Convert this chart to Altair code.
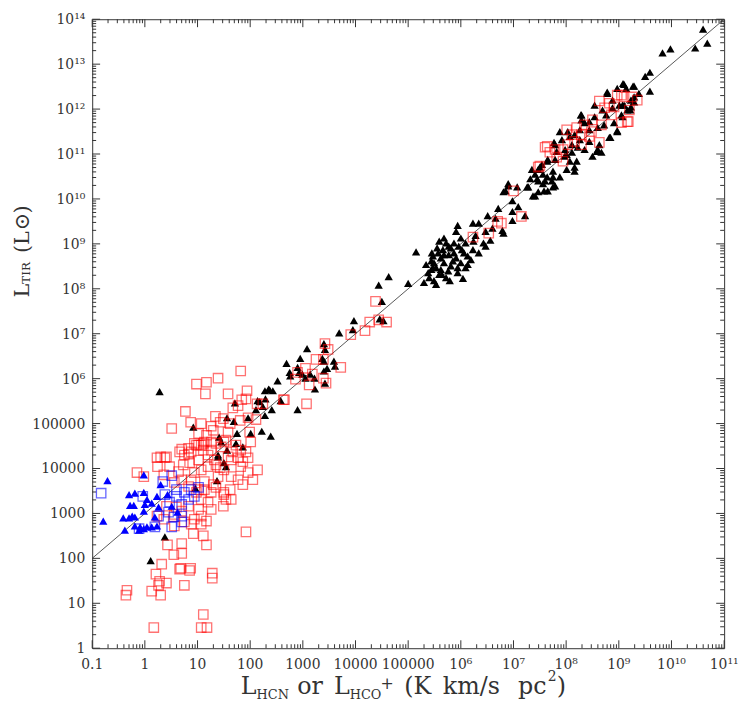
import math
import altair as alt
import pandas as pd

# ---------------- data (log10 values) ----------------
black_tri_x = [10.60, 10.68, 10.45, 9.98, 9.83,
    9.59, 9.50, 9.59, 9.29, 9.08, 8.97, 8.78, 9.14, 9.23, 9.29, 9.01, 9.05, 8.91, 8.82, 8.97, 8.54, 8.29, 8.60, 8.58, 8.44,
    8.16, 8.03, 7.88, 7.92, 7.79, 8.11, 8.22, 8.01, 8.20, 8.07, 8.16, 7.64, 7.50, 7.75, 7.73, 7.60, 7.88,
    8.54, 8.69, 8.35, 8.72, 8.44, 8.26, 7.98, 8.35, 8.63, 8.76, 9.10, 8.88, 9.38, 9.22, 8.50, 7.79, 7.56, 8.26, 8.07,
    8.78, 9.10, 9.27, 8.28, 8.29, 8.44, 7.77, 7.82, 7.65, 7.54, 7.35, 7.41, 7.47, 7.64, 7.75, 7.79, 7.58, 7.47, 7.37,
    6.90, 6.81, 7.26, 8.16, 7.97, 8.11, 8.60, 8.67, 8.84, 8.97, 9.07, 9.16, 9.23, 9.29, 9.07, 8.88,
    8.01, 7.75, 7.65, 7.56, 7.45, 7.47, 7.32, 7.41, 7.28, 7.09, 7.22, 6.98, 6.90, 6.85, 7.07, 6.98, 6.98, 6.71, 6.51, 6.66,
    6.79, 6.81, 6.60, 6.47, 6.34, 6.23, 6.28, 5.94, 5.91, 6.56, 6.43, 6.34, 6.23, 6.09, 6.00, 5.96, 6.13, 5.87, 5.72, 5.68,
    5.59, 5.66, 5.57, 5.47, 5.77, 5.49, 5.44, 5.68, 5.62, 5.81, 6.00, 5.40, 5.49, 5.59, 5.76, 6.13,
    5.81, 5.91, 5.62, 5.53, 5.72, 5.94, 6.06, 5.87, 5.44, 5.34, 6.09, 6.19,
    5.47, 5.55, 5.77, 6.02, 6.24, 6.47, 5.85, 5.64, 5.38, 5.30, 5.53, 5.79, 5.94, 5.68, 6.04, 5.45,
    5.15, 4.63, 4.44, 5.00, 4.50, 4.46, 4.53, 3.97, 3.95, 3.69, 3.40, 3.42, 3.08, 2.95, 3.37, 3.40, 3.59, 3.61, 3.46, 3.40,
    2.69, 2.90, 2.93, 2.75, 2.99, 3.05, 3.14, 3.22, 3.42, 2.52, 3.23, 2.76, 2.28, 2.37, 2.14, 2.90, 1.96,
    0.28, 2.35, 2.43, 2.29, 2.58, 2.18, 2.24, 2.11, 2.41, 2.28, 1.71, 1.56, 1.69, 2.01, 2.22, 2.39, 1.75, 1.41, 1.45, 1.73,
    1.86, 0.92, 1.56, 1.39, 1.39, 1.50, 1.54, 1.37, 0.96, 0.38, 0.11]
black_tri_y = [13.78, 13.47, 13.36, 13.34, 13.25,
    12.82, 12.73, 12.40, 12.51, 12.57, 12.46, 12.35, 12.46, 12.20, 12.27, 12.09, 11.87, 11.70, 11.37, 11.50, 11.83, 11.87, 11.59, 11.06, 11.28,
    11.43, 11.50, 11.50, 11.32, 11.21, 11.21, 11.15, 10.99, 10.84, 10.84, 10.62, 10.84, 10.71, 10.62, 10.40, 10.40, 10.49,
    12.09, 11.98, 11.70, 11.65, 11.54, 11.32, 11.10, 11.10, 11.21, 11.87, 12.09, 12.20, 12.35, 11.98, 10.95, 10.88, 10.55, 11.54, 11.39,
    12.38, 12.55, 12.51, 11.87, 11.76, 11.72, 11.26, 11.06, 10.88, 10.77, 10.66, 10.55, 10.40, 10.49, 10.49, 10.29, 10.18, 10.16, 10.07,
    10.29, 10.16, 10.27, 10.71, 10.95, 11.04, 11.10, 11.04, 11.37, 11.52, 11.83, 11.98, 12.05, 12.16, 12.09, 12.03,
    10.66, 10.27, 10.18, 10.34, 10.45, 10.66, 10.45, 10.07, 10.27, 9.83, 9.63, 9.72, 10.34, 10.18, 10.27, 9.96, 9.52, 9.79, 9.63, 9.57,
    9.30, 9.24, 9.35, 9.28, 9.46, 9.46, 9.19, 9.41, 9.28, 9.08, 9.02, 8.80, 8.87, 9.02, 9.13, 8.95, 8.73, 8.80, 9.02, 9.13,
    9.06, 8.87, 8.80, 8.73, 8.76, 8.58, 8.43, 8.58, 8.43, 8.51, 8.58, 8.25, 8.18, 8.32, 8.40, 8.54,
    8.91, 8.69, 8.69, 8.47, 8.25, 8.36, 8.80, 9.02, 8.62, 8.54, 8.47, 8.65,
    8.47, 8.91, 8.95, 8.87, 9.06, 8.95, 8.62, 8.32, 8.36, 8.14, 8.10, 8.18, 8.47, 8.76, 8.23, 8.80,
    8.82, 8.27, 8.08, 8.12, 7.72, 7.33, 7.29, 7.29, 7.09, 7.02, 6.78, 6.65, 6.67, 6.45, 6.45, 6.39, 6.39, 6.28, 6.23, 6.17,
    6.34, 6.25, 6.14, 6.14, 6.10, 6.01, 6.10, 6.01, 5.90, 5.95, 5.77, 6.06, 5.73, 5.75, 5.51, 5.31, 5.13,
    5.71, 5.77, 5.73, 5.55, 5.51, 5.49, 5.38, 5.31, 5.31, 5.18, 5.46, 5.13, 5.05, 4.78, 4.83, 4.72, 4.78, 4.70, 4.59, 4.56,
    4.48, 4.92, 4.41, 4.26, 4.30, 4.13, 4.04, 3.73, 3.56, 2.48, 1.95]

red_sq_x = [8.63, 8.82, 8.97, 9.10, 9.35, 9.20, 9.18, 9.05, 8.86, 8.73, 8.50, 8.35, 8.20, 8.01, 8.11, 8.29, 8.48, 8.67,
    8.63, 8.44, 8.29, 8.16, 8.03, 7.94, 7.79, 7.64, 7.69, 7.82, 7.94, 7.50, 9.05, 8.91, 9.25, 9.16, 7.60, 7.47,
    7.00, 7.15, 6.70, 6.77, 6.53, 6.23,
    4.38, 4.44, 4.59, 4.27, 4.18, 3.91, 3.42, 3.48, 3.25, 3.39, 3.72, 3.05, 2.90, 3.18, 3.39, 3.44, 2.86, 3.12, 3.07, 2.63,
    2.24, 2.13,
    1.82, 1.39, 1.17, 0.98, 1.15, 1.58, 1.94, 1.84, 1.77, 1.67, 1.92, 2.65, 0.77, 1.34, 1.49, 1.96, 0.87, 0.51, 1.07, 1.26,
    1.43, 1.62, 1.81, 2.11, 1.99, 1.02, 1.17, 1.30, 1.58, 1.11, 0.98, 1.35, 0.70, 0.83, 0.30, 0.41,
    -0.15, -0.02, 0.23, 0.38, 0.24, 0.66, 0.75, 0.88, 0.47, 0.36, 0.64, 0.73, 0.85, 1.02, 1.11, 1.13, 1.26, 1.45, 1.58, 1.77,
    1.96, 2.01, 1.73, 0.94, 1.07, 1.20, 1.35, 0.88, 1.13, 1.39, 1.50, 1.20, 1.07, 0.98, 0.83, 0.70, 0.56,
    1.50, 1.64, 1.77, 1.86, 1.50, 1.02, 0.88, 1.07, 1.17, 0.94, 0.75, 0.56, 0.36, 0.23, 0.41, 0.60, 0.83, 0.70, 0.56, 1.02,
    1.13, 1.26, 1.35, 1.26, 1.07, 1.49, 1.64,
    0.94, 0.83, 1.07, 1.26, 1.50, 1.82, 1.32, 1.82, 1.96, 1.64,
    1.54, 1.67, 1.86, 1.43, 1.30, 1.62, 2.05, 2.14, 1.92, 1.20, 1.02, 1.54,
    1.92, 1.17, 1.11, 0.92, 0.70, 0.55, 0.70, 0.43, 0.32, 0.66, 0.85, 0.21, 1.28, 1.28, 0.41, 0.28, 0.75, -0.34, -0.36, 0.13,
    0.26, 0.30, 0.17, 1.11, 1.07, 1.18, 0.68, 0.87]
red_sq_y = [12.18, 12.13, 12.31, 12.27, 12.20, 11.98, 11.72, 11.70, 11.87, 12.03, 11.76, 11.65, 11.59, 11.54, 11.43, 11.43, 11.50, 11.65,
    11.26, 11.39, 11.21, 11.28, 11.21, 11.10, 11.10, 11.17, 11.04, 10.93, 10.84, 10.73, 12.31, 12.05, 12.27, 11.72, 11.15, 10.71,
    10.18, 9.61, 9.50, 9.46, 9.24, 9.15,
    7.72, 7.31, 7.26, 7.26, 7.07, 6.98, 6.78, 6.65, 6.43, 6.43, 6.25, 6.23, 6.14, 6.10, 6.01, 5.90, 5.99, 5.86, 5.44, 5.53,
    5.44, 5.44,
    6.17, 6.01, 5.92, 5.88, 5.66, 5.66, 5.73, 5.53, 5.40, 5.35, 5.55, 5.53, 5.27, 5.16, 5.11, 5.13, 5.03, 4.89, 5.00, 4.94,
    5.03, 5.00, 5.07, 5.09, 4.81, 4.78, 4.74, 4.85, 4.81, 4.56, 4.52, 4.56, 4.43, 4.32, 4.26, 4.26,
    3.91, 3.82, 4.24, 4.24, 4.04, 4.37, 4.30, 4.37, 4.04, 3.86, 3.93, 4.08, 4.13, 4.19, 4.41, 4.59, 4.41, 4.48, 4.26, 4.24,
    4.24, 4.59, 4.52, 3.91, 3.97, 4.04, 4.08, 3.75, 3.71, 3.82, 3.47, 3.25, 3.31, 3.47, 3.16, 3.05, 2.98,
    3.97, 3.82, 3.75, 3.64, 3.42, 3.09, 2.76, 2.76, 2.83, 2.87, 2.81, 2.72, 2.87, 2.94, 3.16, 3.14, 3.60, 3.75, 3.69, 3.53,
    3.53, 3.47, 3.58, 3.09, 2.94, 3.16, 3.31,
    4.56, 4.45, 4.52, 4.59, 4.59, 4.41, 4.19, 4.04, 3.91, 4.19,
    4.63, 4.37, 4.15, 4.02, 3.64, 3.53, 3.75, 3.97, 4.37, 4.30, 4.52, 3.31,
    2.59, 2.30, 2.50, 2.55, 2.33, 2.08, 2.11, 2.30, 1.87, 1.76, 1.73, 1.65, 1.67, 1.56, 1.45, 1.49, 1.40, 1.29, 1.18, 1.27,
    1.40, 1.18, 0.46, 0.75, 0.46, 0.46, 1.78, 1.78]

blue_tri_x = [-0.71, -0.02, -0.79, -0.38, -0.41, -0.30, -0.24, -0.19, -0.28, -0.21, -0.30, -0.19, -0.19, -0.09, -0.02,
    -0.11, 0.04, 0.13, -0.02, 0.00, 0.13, -0.02, 0.04, 0.23, 0.19, 0.23, 0.30, 0.43, 0.62, 0.26, 0.51]
blue_tri_y = [3.73, 3.86, 2.83, 2.63, 2.90, 2.90, 2.94, 2.92, 3.18, 3.18, 3.42, 3.45, 2.72, 2.70, 2.66,
    2.63, 2.70, 2.70, 3.05, 3.20, 3.23, 3.47, 3.31, 3.38, 2.92, 2.72, 3.64, 3.42, 3.03, 3.14, 3.16]

blue_sq_x = [-0.83, -0.04, 0.38, 0.51, 0.34, -0.11, 0.19, 0.45, 0.55, 0.51, 0.70, 0.60, 0.75, 0.88, 0.70, 0.94,
    0.83, 0.47, 0.26, 0.60, 1.02, 0.70]
blue_sq_y = [3.45, 3.38, 3.42, 3.84, 3.71, 2.66, 2.70, 3.03, 2.92, 2.70, 2.94, 3.38, 3.47, 3.53, 3.20, 3.38,
    3.31, 3.25, 2.94, 3.53, 3.58, 2.81]

fit_x = [0.1, 1e11]
fit_y = [100, 1e14]

x_major = [0.1, 1, 10, 100, 1000, 10000, 100000, 1e6, 1e7, 1e8, 1e9, 1e10, 1e11]
y_major = [1, 10, 100, 1000, 10000, 100000, 1e6, 1e7, 1e8, 1e9, 1e10, 1e11, 1e12, 1e13, 1e14]

# ---------------- chart ----------------
W, H = 638, 635
FONT = "DejaVu Serif"
TXT = "#333333"
SUP = "⁰¹²³⁴⁵⁶⁷⁸⁹"


def tick_label(v):
    e = round(math.log10(v))
    if e < 0:
        return "0.1"
    if e < 6:
        return str(10 ** e)
    return "10" + "".join(SUP[int(c)] for c in str(e))


def pts(xs, ys):
    return pd.DataFrame({"x": [10 ** v for v in xs], "y": [10 ** v for v in ys]})


xscale = alt.Scale(type="log", domain=[0.1, 1e11], nice=False)
yscale = alt.Scale(type="log", domain=[1, 1e14], nice=False)

fit = alt.Chart(pd.DataFrame({"x": fit_x, "y": fit_y})).mark_line(color="#444444", strokeWidth=0.9).encode(
    x=alt.X("x:Q", scale=xscale, axis=None),
    y=alt.Y("y:Q", scale=yscale, axis=None),
)


def layer(df, **mk):
    return alt.Chart(df).mark_point(**mk).encode(
        x=alt.X("x:Q", scale=xscale, axis=None),
        y=alt.Y("y:Q", scale=yscale, axis=None),
    )


btri = layer(pts(black_tri_x, black_tri_y), shape="triangle-up", filled=True, color="black", size=70, opacity=1)
rsq = layer(pts(red_sq_x, red_sq_y), shape="square", filled=False, color="#ff0000", size=90,
            strokeWidth=1.3, opacity=0.55)
bsq = layer(pts(blue_sq_x, blue_sq_y), shape="square", filled=False, color="#0000ff", size=90,
            strokeWidth=1.3, opacity=0.6)
btri2 = layer(pts(blue_tri_x, blue_tri_y), shape="triangle-up", filled=True, color="#0000ff", size=70, opacity=1)

# inward ticks on all four sides
x_minor = [k * b for b in x_major[:-1] for k in range(2, 10)]
y_minor = [k * b for b in y_major[:-1] for k in range(2, 10)]


def xticks(vals, y0, y1):
    return alt.Chart(pd.DataFrame({"v": vals})).mark_rule(color="#333333", strokeWidth=1).encode(
        x=alt.X("v:Q", scale=xscale, axis=None), y=alt.value(y0), y2=alt.value(y1))


def yticks(vals, x0, x1):
    return alt.Chart(pd.DataFrame({"v": vals})).mark_rule(color="#333333", strokeWidth=1).encode(
        y=alt.Y("v:Q", scale=yscale, axis=None), x=alt.value(x0), x2=alt.value(x1))


ticks = [
    xticks(x_major, H, H - 8), xticks(x_minor, H, H - 4),
    xticks(x_major, 0, 8), xticks(x_minor, 0, 4),
    yticks(y_major, 0, 8), yticks(y_minor, 0, 4),
    yticks(y_major, W, W - 8), yticks(y_minor, W, W - 4),
]

# tick labels as text marks placed through the scales
xlab = alt.Chart(pd.DataFrame({"v": x_major, "t": [tick_label(v) for v in x_major]})).mark_text(
    font=FONT, fontSize=14, color=TXT, align="center", baseline="middle").encode(
    x=alt.X("v:Q", scale=xscale, axis=None), y=alt.value(H + 17), text="t:N")
ylab = alt.Chart(pd.DataFrame({"v": y_major, "t": [tick_label(v) for v in y_major]})).mark_text(
    font=FONT, fontSize=14, color=TXT, align="right", baseline="alphabetic", dy=5).encode(
    y=alt.Y("v:Q", scale=yscale, axis=None), x=alt.value(-7), text="t:N")

one = pd.DataFrame({"a": [0]})


def txt(s, x, y, size, angle=0):
    return alt.Chart(one).mark_text(text=s, font=FONT, fontSize=size, color=TXT, align="left",
                                    baseline="alphabetic", angle=angle).encode(
        x=alt.value(x), y=alt.value(y))


titles = [
    txt("L", 150, 681, 24), txt("HCN", 166, 686, 13),
    txt("or", 207, 681, 24),
    txt("L", 244, 681, 24), txt("HCO", 260, 686, 13), txt("+", 291, 676, 16),
    txt("(K", 315, 681, 24), txt("km/s", 354, 681, 24), txt("pc", 430, 681, 24),
    txt("2", 460, 668, 14), txt(")", 469, 681, 24),
    txt("L", -64, 281, 21, 270), txt("TIR", -63, 267, 12, 270),
    txt("(L", -64, 236, 21, 270), txt("⊙", -64, 213, 21, 270), txt(")", -64, 196, 21, 270),
]

chart = alt.layer(fit, *ticks, btri, rsq, bsq, btri2, xlab, ylab, *titles).properties(
    width=W, height=H,
    padding={"left": 85, "top": 8, "right": 15, "bottom": 55},
    autosize=alt.AutoSizeParams(type="none"),
).configure_view(stroke="#333333", strokeWidth=1)

chart.save("out.html", embed_options={"renderer": "svg", "actions": False})
